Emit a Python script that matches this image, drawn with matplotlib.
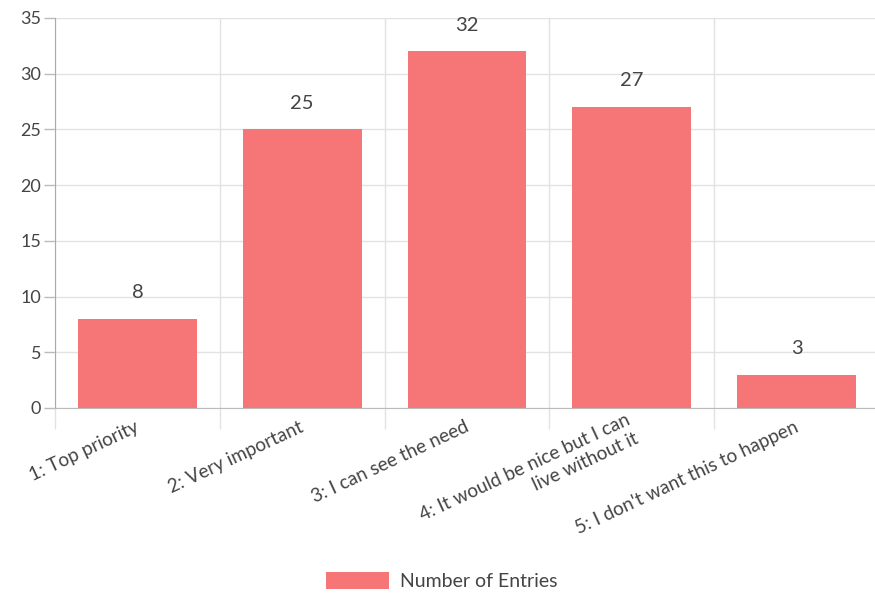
import matplotlib.pyplot as plt
from matplotlib.patches import Patch

categories = ["1: Top priority", "2: Very important", "3: I can see the need",
              "4: It would be nice but I can\nlive without it",
              "5: I don't want this to happen"]
entries = [8, 25, 32, 27, 3]

bar_color = "#f67678"
text_color = "#444444"
grid_color = "#e2e2e2"

plt.rcParams['font.family'] = ['Lato', 'DejaVu Sans']

fig = plt.figure(figsize=(8.75, 5.94), dpi=100)
ax = fig.add_axes([55 / 875, 186 / 594, 824 / 875, 390 / 594])

x = range(len(categories))
ax.bar(x, entries, width=0.72, color=bar_color, zorder=2)

for i, v in zip(x, entries):
    ax.annotate(str(v), (i, v), xytext=(0, 19), textcoords="offset points",
                ha="center", va="center", fontsize=14.5, color=text_color)

ax.set_xlim(-0.5, len(categories) - 0.5)
ax.set_ylim(0, 35)
ax.set_yticks(range(0, 36, 5))

# gridlines at category boundaries, like the original
ax.set_xticks([i - 0.5 for i in range(len(categories) + 1)])
ax.set_xticklabels([])
ax.tick_params(axis="x", length=15, color=grid_color, width=1)
ax.tick_params(axis="y", length=8, color="#bbbbbb", width=1, labelsize=13,
               labelcolor=text_color, pad=2)
ax.grid(True, color=grid_color, linewidth=1, zorder=0)

for i, lab in enumerate(categories):
    ax.text(i, -1.5, lab, rotation=25, rotation_mode="anchor", ha="right",
            va="center_baseline", multialignment="right", fontsize=13.6,
            color=text_color, linespacing=1.3, transform=ax.transData)

for s in ["top", "right"]:
    ax.spines[s].set_visible(False)
ax.spines["left"].set_color("#aaaaaa")
ax.spines["bottom"].set_color("#bbbbbb")

handle = Patch(facecolor=bar_color, edgecolor="none")
fig.legend([handle], ["Number of Entries"], loc="center",
           bbox_to_anchor=(442 / 875, 1 - 581 / 594), frameon=False,
           fontsize=14, labelcolor=text_color, handlelength=3.25,
           handleheight=0.95, handletextpad=0.57)

fig.savefig("out.png", dpi=100, facecolor="white")
